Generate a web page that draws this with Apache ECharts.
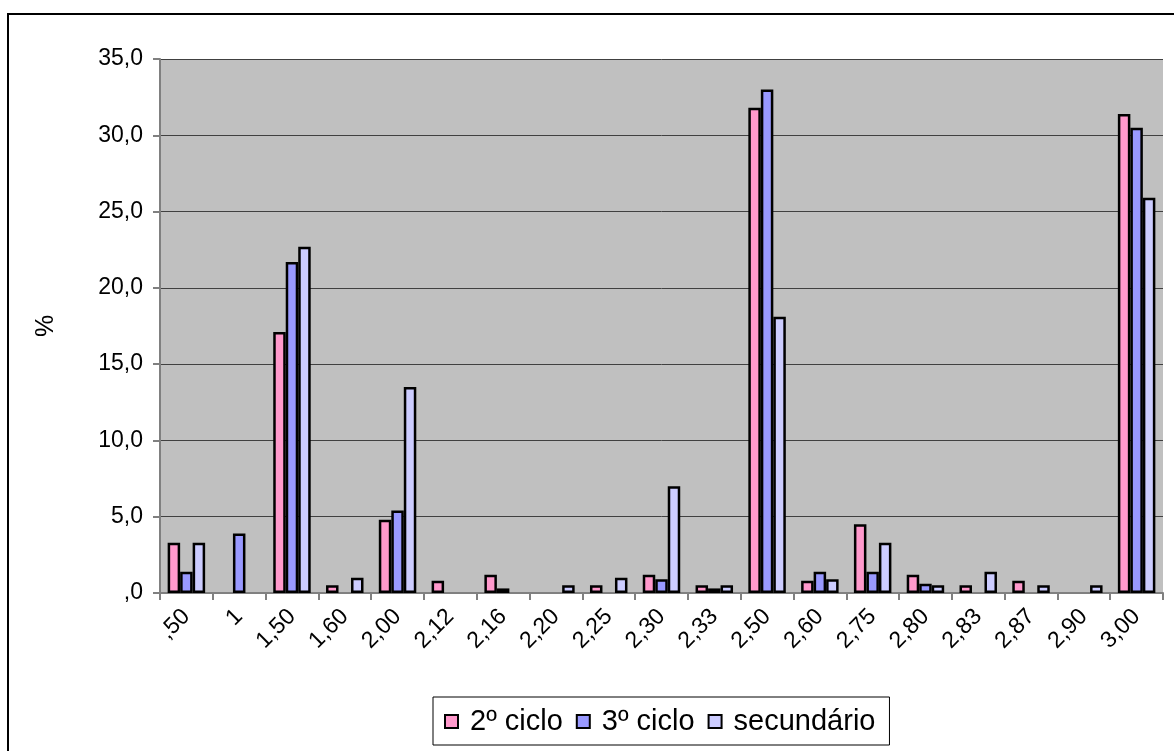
<!DOCTYPE html>
<html>
<head>
<meta charset="utf-8">
<script src="https://cdn.jsdelivr.net/npm/echarts@6/dist/echarts.min.js"></script>
<style>
  html, body { margin: 0; padding: 0; background: #fff; }
</style>
</head>
<body>
<div id="myChart" style="width: 1174px; height: 751px;"></div>
<script>
  // categorias (classificações)
  let categories = [',50', '1', '1,50', '1,60', '2,00', '2,12', '2,16', '2,20', '2,25', '2,30',
    '2,33', '2,50', '2,60', '2,75', '2,80', '2,83', '2,87', '2,90', '3,00'];
  let ciclo2 = [3.3, 0, 17.1, 0.5, 4.8, 0.8, 1.2, 0, 0.5, 1.2, 0.5, 31.8, 0.8, 4.5, 1.2, 0.5, 0.8, 0, 31.4];
  let ciclo3 = [1.4, 3.9, 21.7, 0, 5.4, 0, 0.3, 0, 0, 0.9, 0.3, 33.0, 1.4, 1.4, 0.6, 0, 0, 0, 30.5];
  let secundario = [3.3, 0, 22.7, 1.0, 13.5, 0, 0, 0.5, 1.0, 7.0, 0.5, 18.1, 0.9, 3.3, 0.5, 1.4, 0.5, 0.5, 25.9];
  let yTicks = [0, 5, 10, 15, 20, 25, 30, 35];

  let font = 'Arial, "Liberation Sans", sans-serif';
  let myChart = echarts.init(document.getElementById('myChart'));

  function serie(name, values, color) {
    return {
      name: name,
      type: 'bar',
      barGap: '0%',
      barCategoryGap: '29%',
      itemStyle: { color: color, borderColor: '#000', borderWidth: 2.5 },
      // zero values draw nothing
      data: values.map(function (v) { return v === 0 ? '-' : v; })
    };
  }

  let options = {
    backgroundColor: '#fff',
    animation: false,
    graphic: [{
      type: 'rect',
      shape: { x: 8, y: 14, width: 1200, height: 800 },
      style: { fill: 'none', stroke: '#000', lineWidth: 2 },
      silent: true
    }],
    grid: { left: 160, top: 59, right: 11, bottom: 158, backgroundColor: '#c0c0c0', show: true, borderWidth: 0 },
    legend: {
      left: 433,
      top: 697,
      padding: [10, 14, 9, 11],
      itemGap: 13,
      itemWidth: 13,
      itemHeight: 13,
      borderColor: '#000',
      borderWidth: 1,
      backgroundColor: '#fff',
      icon: 'rect',
      itemStyle: { borderColor: '#000', borderWidth: 2 },
      textStyle: { fontFamily: font, fontSize: 29, color: '#000', padding: [0, 0, 0, 7] },
      data: ['2º ciclo', '3º ciclo', 'secundário']
    },
    xAxis: {
      type: 'category',
      data: categories,
      axisLine: { lineStyle: { color: '#808080', width: 2 } },
      axisTick: { show: true, length: 7, lineStyle: { color: '#808080', width: 2 } },
      axisLabel: { rotate: 45, interval: 0, margin: 20, fontFamily: font, fontSize: 23, color: '#000' }
    },
    yAxis: {
      type: 'value',
      min: yTicks[0],
      max: yTicks[yTicks.length - 1],
      interval: 5,
      name: '%',
      nameLocation: 'middle',
      nameGap: 101,
      nameRotate: 90,
      nameTextStyle: { fontFamily: font, fontSize: 25, color: '#000' },
      axisLine: { show: true, lineStyle: { color: '#808080', width: 2 } },
      axisTick: { show: true, length: 7, lineStyle: { color: '#808080', width: 2 } },
      splitLine: { lineStyle: { color: '#404040', width: 1 } },
      axisLabel: {
        margin: 17,
        fontFamily: font,
        fontSize: 23,
        color: '#000',
        formatter: function (v) { return v === 0 ? ',0' : v.toFixed(1).replace('.', ','); }
      }
    },
    series: [
      serie('2º ciclo', ciclo2, '#ff99cc'),
      serie('3º ciclo', ciclo3, '#9999ff'),
      serie('secundário', secundario, '#ccccff')
    ]
  };
  myChart.setOption(options);
</script>
</body>
</html>
